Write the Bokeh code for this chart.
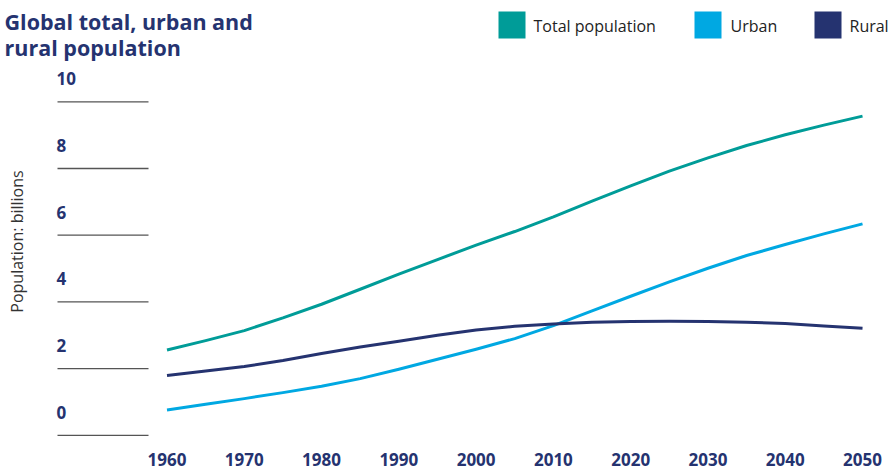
import math
from bokeh.plotting import figure
from bokeh.models import Range1d
from bokeh.core.properties import value
from bokeh.embed import file_html
from bokeh.resources import INLINE

# ---- data ----
years = [1960, 1965, 1970, 1975, 1980, 1985, 1990, 1995, 2000, 2005,
         2010, 2015, 2020, 2025, 2030, 2035, 2040, 2045, 2050]
total = [2.56, 2.84, 3.14, 3.52, 3.93, 4.38, 4.83, 5.27, 5.70, 6.11,
         6.55, 7.02, 7.48, 7.92, 8.32, 8.69, 9.01, 9.30, 9.57]
urban = [0.76, 0.93, 1.10, 1.28, 1.47, 1.70, 1.98, 2.28, 2.58, 2.90,
         3.29, 3.73, 4.17, 4.60, 5.01, 5.39, 5.72, 6.04, 6.34]
rural = [1.79, 1.93, 2.06, 2.24, 2.45, 2.65, 2.82, 3.00, 3.16, 3.27,
         3.34, 3.39, 3.41, 3.42, 3.41, 3.39, 3.35, 3.28, 3.21]
y_ticks = [0, 2, 4, 6, 8, 10]
x_ticks = [1960, 1970, 1980, 1990, 2000, 2010, 2020, 2030, 2040, 2050]
series_names = ["Total population", "Urban", "Rural"]
title_lines = ["Global total, urban and", "rural population"]
y_label = "Population: billions"

# ---- styles ----
TEAL = "#009c98"
SKY = "#00a8e2"
NAVY = "#253370"
FONT = "Open Sans"

W, H = 891, 472
px_per_year = 7.728
x0_px = 166.5
px_per_unit = 33.35
y10_px = 101.3

x_start = 1960 - x0_px / px_per_year
x_end = 1960 + (W - x0_px) / px_per_year
y_end = 10 + y10_px / px_per_unit
y_start = 10 - (H - y10_px) / px_per_unit

p = figure(width=W, height=H, output_backend="svg", toolbar_location=None,
           x_range=Range1d(x_start, x_end), y_range=Range1d(y_start, y_end),
           min_border=0, x_axis_type=None, y_axis_type=None)
p.outline_line_color = None
p.grid.visible = False
p.background_fill_color = "white"
p.border_fill_color = "white"
p.extra_x_ranges = {"px": Range1d(0, W)}
p.extra_y_ranges = {"py": Range1d(H, 0)}

# y tick lines and labels
p.segment(x0=[57] * len(y_ticks), x1=[148] * len(y_ticks), y0=y_ticks, y1=y_ticks,
          x_range_name="px", line_color="#555555", line_width=1.3)
p.text(x=[56] * len(y_ticks), y=y_ticks, text=[str(t) for t in y_ticks],
       x_range_name="px", y_offset=-23, text_baseline="middle", text_align="left",
       text_font=value(FONT), text_font_style="bold", text_font_size="17px",
       text_color=NAVY)

# x tick labels
p.text(x=x_ticks, y=[459] * len(x_ticks), text=[str(t) for t in x_ticks],
       y_range_name="py", text_baseline="middle", text_align="center",
       text_font=value(FONT), text_font_style="bold", text_font_size="17px",
       text_color=NAVY)

# series lines
p.line(years, total, line_color=TEAL, line_width=3, line_join="round")
p.line(years, urban, line_color=SKY, line_width=3, line_join="round")
p.line(years, rural, line_color=NAVY, line_width=3, line_join="round")

# title
p.text(x=[4, 4], y=[21, 47], text=title_lines, x_range_name="px", y_range_name="py",
       text_baseline="middle", text_align="left", text_font=value(FONT),
       text_font_style="bold", text_font_size="21.5px", text_color=NAVY)

# y axis label
p.text(x=[16], y=[241], text=[y_label], x_range_name="px", y_range_name="py",
       angle=math.pi / 2, text_baseline="middle", text_align="center",
       text_font=value(FONT), text_font_size="16px", text_color="#333333")

# legend
leg_sq_x = [511.5, 707.5, 827.5]
leg_tx_x = [533, 730, 849]
p.rect(x=leg_sq_x, y=[24.5] * 3, width=27, height=27, x_range_name="px",
       y_range_name="py", fill_color=[TEAL, SKY, NAVY], line_color=None)
p.text(x=leg_tx_x, y=[25] * 3, text=series_names, x_range_name="px", y_range_name="py",
       text_baseline="middle", text_align="left", text_font=value(FONT),
       text_font_size="16px", text_color="#222222")

open("out.html", "w").write(file_html(p, INLINE))
